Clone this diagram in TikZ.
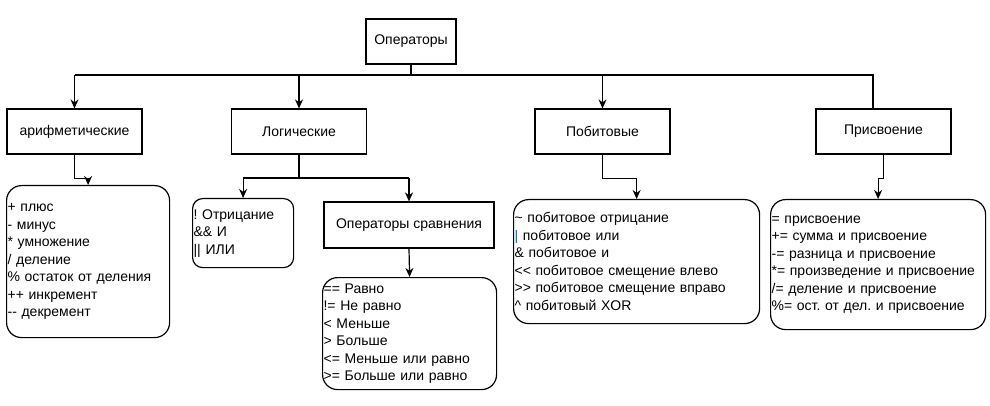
\documentclass[tikz,border=0pt]{standalone}
\usepackage{fontspec}
\setmainfont{Liberation Sans}
\usetikzlibrary{arrows.meta,positioning}
\definecolor{PipeBlue}{RGB}{0,102,204}
\frenchspacing

\begin{document}
\begin{tikzpicture}[
  x=1pt, y=-1pt,
  category/.style={
    draw, line width=1.2pt,
    minimum width=135pt, minimum height=45pt,
    inner sep=0pt, font=\fontsize{14}{17.5}\selectfont},
  listbox/.style={
    draw, line width=1.2pt,
    rounded corners=15pt, anchor=north west,
    align=left, inner sep=1pt,
    font=\fontsize{14}{17.5}\selectfont},
  arrow/.style={
    -{Stealth[length=9pt,width=8pt]}, line width=1.2pt},
  line/.style={
    line width=1.2pt}
]
\useasboundingbox[fill=white] (0,0) rectangle (990,406);

\node[category, minimum width=90pt] (ops) at (411,41.5) {Операторы};

\node[category] (arith)  at (74.5,131.5)  {арифметические};
\node[category] (logic)  at (299,131.5)   {Логические};
\node[category] (bitw)   at (602.5,131.5) {Побитовые};
\node[category] (assign) at (883.5,131.5) {Присвоение};

\node[category, minimum width=170pt, minimum height=46pt]
  (cmp) at (409,225) {Операторы сравнения};

\node[listbox, text width=161pt, minimum height=152pt]
  (arithlist) at (6,185)
  {+ плюс\\- минус\\{*} умножение\\/ деление\\\% остаток от деления\\++ инкремент\\-{}- декремент};
\node[listbox, text width=99pt, minimum height=69pt, rounded corners=10pt]
  (notlist) at (192,198)
  {! Отрицание\\\&\& И\\|| ИЛИ};
\node[listbox, text width=172pt, minimum height=112pt]
  (cmplist) at (322,277)
  {== Равно\\!= Не равно\\< Меньше\\> Больше\\<= Меньше или равно\\>= Больше или равно};
\node[listbox, text width=244pt, minimum height=124pt]
  (bitlist) at (513,199)
  {\textasciitilde{} побитовое отрицание\\\textcolor{PipeBlue}{|} побитовое или\\\& побитовое и\\<{}< побитовое смещение влево\\>{}> побитовое смещение вправо\\\textasciicircum{} побитовый XOR};
\node[listbox, text width=213pt, minimum height=130pt]
  (assignlist) at (770,199)
  {= присвоение\\+= сумма и присвоение\\-= разница и присвоение\\{*}= произведение и присвоение\\/= деление и присвоение\\\%= ост. от дел. и присвоение};

% top bus
\coordinate (bus)  at (411,75);
\coordinate (busR) at (873,75);
\draw[line] (ops.south) -- (bus);
\draw[line] (arith.north |- bus) -- (busR) -- (busR |- assign.north);
\foreach \n in {arith,logic,bitw}{
  \draw[arrow] (\n.north |- bus) -- (\n.north);
}

% logic branch
\coordinate (lbus) at (299,178);
\draw[line] (logic.south) -- (lbus);
\draw[line] (notlist.north |- lbus) -- (cmp.north |- lbus);
\draw[arrow] (notlist.north |- lbus) -- (notlist.north);
\draw[arrow] (cmp.north |- lbus) -- (cmp.north);
\draw[arrow] (cmp.south) -- (cmplist.north);

% lists
\foreach \c/\l in {arith/arithlist,bitw/bitlist,assign/assignlist}{
  \draw[arrow] (\c.south) -- ++(0,24) -| (\l.north);
}
\end{tikzpicture}
\end{document}
